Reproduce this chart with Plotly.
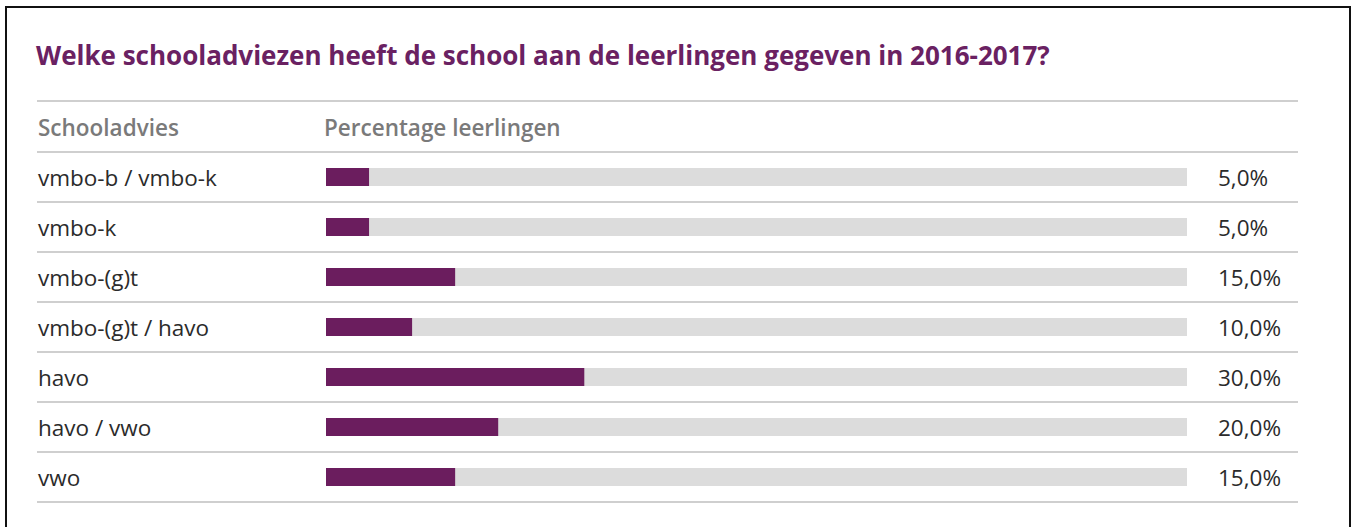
import plotly.graph_objects as go

categories = ["vmbo-b / vmbo-k", "vmbo-k", "vmbo-(g)t", "vmbo-(g)t / havo", "havo", "havo / vwo", "vwo"]
values = [5.0, 5.0, 15.0, 10.0, 30.0, 20.0, 15.0]
value_labels = ["5,0%", "5,0%", "15,0%", "10,0%", "30,0%", "20,0%", "15,0%"]
full_scale = 100.0
title_text = "Welke schooladviezen heeft de school aan de leerlingen gegeven in 2016-2017?"
header_left = "Schooladvies"
header_mid = "Percentage leerlingen"

W, H = 1355, 527
L, R = 326, 1187          # plot area in pixels
T, B = 152, 502
pw = R - L
ph = B - T
n = len(categories)

def px_x(p):
    return (p - L) / pw

def px_y(p):
    return 1 - (p - T) / ph

PURPLE = "#6b1d5e"
TRACK = "#dcdcdc"
RULE = "#cfcfcf"
FONT = "Open Sans"

fig = go.Figure()
fig.add_trace(go.Bar(
    y=categories, x=[full_scale] * n, orientation="h",
    marker=dict(color=TRACK, line=dict(width=0)), width=0.36,
    hoverinfo="skip", showlegend=False,
))
fig.add_trace(go.Bar(
    y=categories, x=values, orientation="h",
    marker=dict(color=PURPLE, line=dict(width=0)), width=0.36,
    showlegend=False,
))

annotations = []
for cat, lab in zip(categories, value_labels):
    annotations.append(dict(
        x=px_x(36), xref="paper", y=cat, yref="y", text=cat,
        xanchor="left", yanchor="middle", showarrow=False,
        font=dict(family=FONT, size=22.5, color="#2b2b2b"),
    ))
    annotations.append(dict(
        x=px_x(1216), xref="paper", y=cat, yref="y", text=lab,
        xanchor="left", yanchor="middle", showarrow=False,
        font=dict(family=FONT, size=22.5, color="#2b2b2b"),
    ))
annotations.append(dict(
    x=px_x(36), xref="paper", y=px_y(127), yref="paper", text=header_left,
    xanchor="left", yanchor="middle", showarrow=False,
    font=dict(family=FONT, size=22.5, color="#7a7a7a", weight=600),
))
annotations.append(dict(
    x=px_x(322), xref="paper", y=px_y(127), yref="paper", text=header_mid,
    xanchor="left", yanchor="middle", showarrow=False,
    font=dict(family=FONT, size=22.5, color="#7a7a7a", weight=600),
))

shapes = []
rule_ys = [101] + [T + i * ph / n for i in range(n + 1)]
for yy in rule_ys:
    shapes.append(dict(
        type="line", xref="paper", yref="paper",
        x0=px_x(37), x1=px_x(1298), y0=px_y(yy), y1=px_y(yy),
        line=dict(color=RULE, width=2),
    ))
# outer frame (open at bottom)
shapes.append(dict(
    type="path", xref="paper", yref="paper",
    path=f"M {px_x(6)} {px_y(560)} L {px_x(6)} {px_y(7)} L {px_x(1350)} {px_y(7)} L {px_x(1350)} {px_y(560)}",
    line=dict(color="#111111", width=2),
))

fig.update_layout(
    width=W, height=H,
    margin=dict(l=L, r=W - R, t=T, b=H - B),
    paper_bgcolor="white", plot_bgcolor="white",
    barmode="overlay",
    title=dict(
        text=title_text, x=36 / W, xref="container", xanchor="left",
        y=1 - 56 / H, yref="container", yanchor="middle",
        font=dict(family=FONT, size=26, color="#6a2162", weight=700),
    ),
    xaxis=dict(range=[0, full_scale], visible=False, fixedrange=True),
    yaxis=dict(categoryorder="array", categoryarray=categories,
               autorange="reversed", visible=False, fixedrange=True),
    annotations=annotations,
    shapes=shapes,
)

fig.write_html(
    "out.html",
    config={"displayModeBar": False},
    post_script="document.body.style.margin='0';document.body.style.overflow='hidden';",
)
